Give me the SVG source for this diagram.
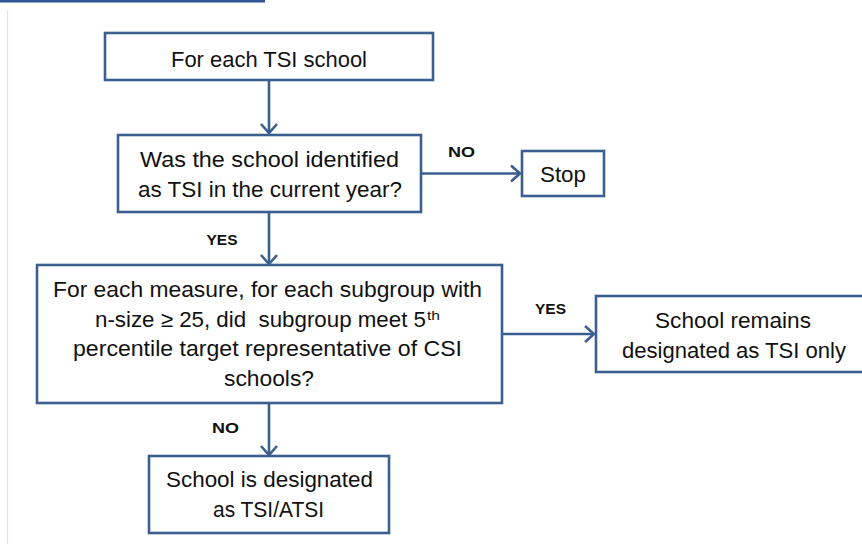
<svg xmlns="http://www.w3.org/2000/svg" width="862" height="544" viewBox="0 0 862 544">
<defs>
<style>
.box{fill:#fff;stroke:#3B5F8F;stroke-width:2.6}
.t{font-family:"Liberation Sans",Arial,sans-serif;font-size:22px;fill:#111;text-anchor:middle}
.lbl{font-family:"Liberation Sans",Arial,sans-serif;font-size:15px;font-weight:bold;fill:#111;text-anchor:middle}
.ln{stroke:#3B5F8F;stroke-width:2.6;fill:none}
</style>
<marker id="arr" markerWidth="12" markerHeight="20" viewBox="0 0 12 20" refX="10" refY="10" orient="auto" markerUnits="userSpaceOnUse">
<path d="M1,2 L10,10 L1,18" fill="none" stroke="#3B5F8F" stroke-width="2.6"/>
</marker>
</defs>
<rect width="862" height="544" fill="#fff"/>
<line x1="0" y1="1.2" x2="265" y2="1.2" stroke="#2F5597" stroke-width="2.4"/>
<line x1="7.5" y1="10" x2="7.5" y2="544" stroke="#e2e2e2" stroke-width="1.2"/>

<g id="connectors">
<line class="ln" x1="269" y1="80" x2="269" y2="133" marker-end="url(#arr)"/>
<line class="ln" x1="421" y1="173.5" x2="520" y2="173.5" marker-end="url(#arr)"/>
<line class="ln" x1="269" y1="212" x2="269" y2="264" marker-end="url(#arr)"/>
<line class="ln" x1="502" y1="334" x2="594" y2="334" marker-end="url(#arr)"/>
<line class="ln" x1="269" y1="403" x2="269" y2="455" marker-end="url(#arr)"/>
<text class="lbl" x="461.5" y="157" textLength="27" lengthAdjust="spacingAndGlyphs">NO</text>
<text class="lbl" x="222" y="245" textLength="31" lengthAdjust="spacingAndGlyphs">YES</text>
<text class="lbl" x="550.5" y="314" textLength="31" lengthAdjust="spacingAndGlyphs">YES</text>
<text class="lbl" x="225.5" y="433" textLength="27" lengthAdjust="spacingAndGlyphs">NO</text>
</g>

<g id="start">
<rect class="box" x="105" y="33" width="328" height="47"/>
<text class="t" x="269" y="67" textLength="196" lengthAdjust="spacingAndGlyphs">For each TSI school</text>
</g>

<g id="identified">
<rect class="box" x="118" y="135" width="303" height="77"/>
<text class="t" x="269.5" y="167" textLength="259" lengthAdjust="spacingAndGlyphs">Was the school identified</text>
<text class="t" x="270" y="197" textLength="264" lengthAdjust="spacingAndGlyphs">as TSI in the current year?</text>
</g>

<g id="stop">
<rect class="box" x="522" y="151" width="82" height="45"/>
<text class="t" x="563" y="182" textLength="46" lengthAdjust="spacingAndGlyphs">Stop</text>
</g>

<g id="measure">
<rect class="box" x="37" y="265" width="465" height="138"/>
<text class="t" x="267.5" y="296.7" textLength="429" lengthAdjust="spacingAndGlyphs">For each measure, for each subgroup with</text>
<text class="t" x="95" y="326.7" style="text-anchor:start;white-space:pre" xml:space="preserve" textLength="331" lengthAdjust="spacingAndGlyphs">n-size ≥ 25, did  subgroup meet 5</text>
<text class="t" x="427" y="319.5" style="text-anchor:start;font-size:13px" textLength="13" lengthAdjust="spacingAndGlyphs">th</text>
<text class="t" x="267.5" y="356" textLength="389" lengthAdjust="spacingAndGlyphs">percentile target representative of CSI</text>
<text class="t" x="269" y="386" textLength="90" lengthAdjust="spacingAndGlyphs">schools?</text>
</g>

<g id="remains">
<rect class="box" x="596" y="296" width="290" height="76"/>
<text class="t" x="733" y="328" textLength="156" lengthAdjust="spacingAndGlyphs">School remains</text>
<text class="t" x="734" y="357.7" textLength="224" lengthAdjust="spacingAndGlyphs">designated as TSI only</text>
</g>

<g id="designated">
<rect class="box" x="149" y="456" width="240" height="77"/>
<text class="t" x="269.5" y="487.3" textLength="207" lengthAdjust="spacingAndGlyphs">School is designated</text>
<text class="t" x="268.5" y="516.7" textLength="111" lengthAdjust="spacingAndGlyphs">as TSI/ATSI</text>
</g>
</svg>
